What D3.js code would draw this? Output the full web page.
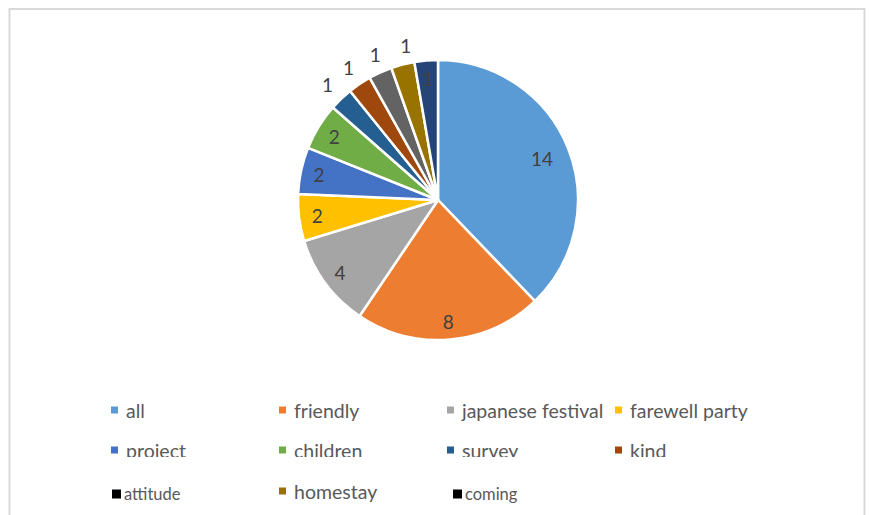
<!DOCTYPE html>
<html>
<head>
<meta charset="utf-8">
<script src="https://cdn.jsdelivr.net/npm/d3@7/dist/d3.min.js"></script>
<style>
  html, body { margin: 0; padding: 0; background: #fff; }
  svg { display: block; font-family: "Lato", "Open Sans", sans-serif; }
</style>
</head>
<body>
<svg id="chart" width="870" height="515"></svg>
<script>
// Word counts per category
const categories = ["all", "friendly", "japanese festival", "farewell party", "project",
                    "children", "survey", "kind", "attitude", "homestay", "coming"];
const values = [14, 8, 4, 2, 2, 2, 1, 1, 1, 1, 1];
const colors = ["#5B9BD5", "#ED7D31", "#A5A5A5", "#FFC000", "#4472C4",
                "#70AD47", "#255E91", "#9E480E", "#636363", "#997300", "#264478"];
// slices whose value label sits just outside the rim
const outsideLabels = ["survey", "kind", "attitude", "homestay"];

const data = categories.map((c, i) => ({ name: c, value: values[i], color: colors[i] }));

const svg = d3.select("#chart");

// chart frame
svg.append("rect")
  .attr("x", 9.5).attr("y", 9)
  .attr("width", 855).attr("height", 520)
  .attr("fill", "#fff")
  .attr("stroke", "#d9d9d9").attr("stroke-width", 2);

const cx = 438, cy = 200, r = 140;
const pie = d3.pie().value(d => d.value).sort(null);
const arcs = pie(data);
const arc = d3.arc().innerRadius(0).outerRadius(r);
const labelArc = k => d3.arc().innerRadius(r * k).outerRadius(r * k);
const bigLabel = labelArc(0.8);
const inLabel = labelArc(0.87);
const outLabel = labelArc(1.14);

const g = svg.append("g").attr("transform", `translate(${cx},${cy})`);

g.selectAll("path.slice")
  .data(arcs)
  .join("path")
  .attr("class", "slice")
  .attr("d", arc)
  .attr("fill", d => d.data.color)
  .attr("stroke", "#fff")
  .attr("stroke-width", 2.5)
  .attr("stroke-linejoin", "round");

g.selectAll("text.val")
  .data(arcs)
  .join("text")
  .attr("class", "val")
  .attr("transform", d => {
    const a = outsideLabels.includes(d.data.name) ? outLabel
            : d.index === 0 ? bigLabel : inLabel;
    const p = a.centroid(d);
    const dx = d.data.name === "homestay" ? 8 : d.data.name === "attitude" ? 3 : 0;
    return `translate(${p[0] + dx},${p[1]})`;
  })
  .attr("text-anchor", "middle")
  .attr("dominant-baseline", "central")
  .attr("font-size", 19)
  .attr("fill", "#404040")
  .text(d => d.data.value);

// legend
const colX = [111, 279, 447, 615];
const legendRows = [
  { y: 410, items: [0, 1, 2, 3], clip: false },
  { y: 450, items: [4, 5, 6, 7], clip: true },
  { y: 491, items: [8, 9, 10], clip: false }
];

svg.append("defs").append("clipPath").attr("id", "row2clip")
  .append("rect").attr("x", 0).attr("y", 0).attr("width", 870).attr("height", 457);

legendRows.forEach(row => {
  const rg = svg.append("g");
  if (row.clip) rg.attr("clip-path", "url(#row2clip)");
  row.items.forEach((idx, ci) => {
    const name = categories[idx];
    // attitude and coming carry a black key and smaller text
    const small = name === "attitude" || name === "coming";
    const x = colX[ci] + (name === "coming" ? 6 : small ? 1 : 0);
    const y = row.y + (small ? 3 : 0);
    const m = small ? 9 : 7;
    rg.append("rect")
      .attr("x", x).attr("y", y - m / 2)
      .attr("width", m).attr("height", m)
      .attr("fill", small ? "#000" : colors[idx]);
    rg.append("text")
      .attr("x", x + m + (small ? 3 : 8))
      .attr("y", y)
      .attr("dominant-baseline", "central")
      .attr("font-size", small ? 16.5 : 19.5)
      .attr("fill", "#595959")
      .text(name);
  });
});
</script>
</body>
</html>
